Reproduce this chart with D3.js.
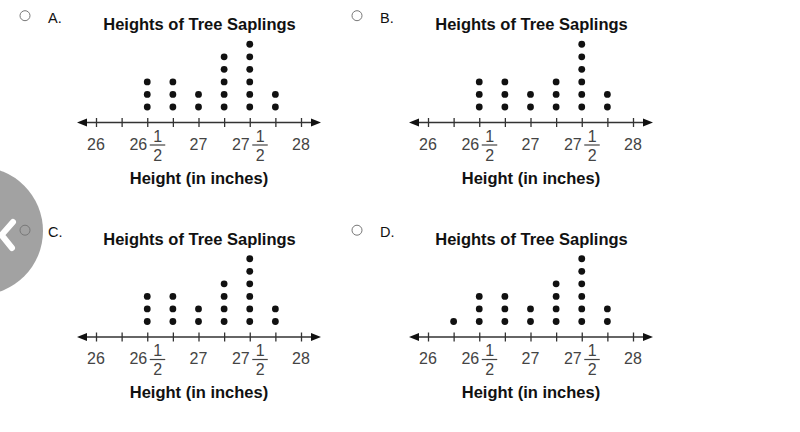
<!DOCTYPE html>
<html>
<head>
<meta charset="utf-8">
<script src="https://cdn.jsdelivr.net/npm/d3@7"></script>
<style>
  html, body { margin: 0; padding: 0; background: #fff; }
  svg { display: block; }
</style>
</head>
<body>
<svg id="chart" width="800" height="432"></svg>
<script>
// ---- data ----
const title = "Heights of Tree Saplings";
const xAxisLabel = "Height (in inches)";
const optionLetters = ["A.", "B.", "C.", "D."];
const tickValues = [26, 26.25, 26.5, 26.75, 27, 27.25, 27.5, 27.75, 28];
const labelValues = [26, 26.5, 27, 27.5, 28];
const labelWhole = ["26", "26", "27", "27", "28"];
const labelNumer = ["", "1", "", "1", ""];
const labelDenom = ["", "2", "", "2", ""];
const heights = [26.25, 26.5, 26.75, 27, 27.25, 27.5, 27.75];
const countsA = [0, 3, 3, 2, 5, 6, 2];
const countsB = [0, 3, 3, 2, 3, 6, 2];
const countsC = [0, 3, 3, 2, 4, 6, 2];
const countsD = [1, 3, 3, 2, 4, 6, 2];
const panelCounts = [countsA, countsB, countsC, countsD];

// ---- layout ----
const svg = d3.select("#chart");
const panelDX = 332, panelDY = 214.5;
const axisY = 122.5;
const font = "'Liberation Sans', Arial, Helvetica, sans-serif";

// decorative grey circle with chevron (behind panels)
svg.append("circle").attr("cx", -21).attr("cy", 231).attr("r", 64).attr("fill", "#a2a2a2");
svg.append("path")
  .attr("d", d3.line()([[13, 222], [1.5, 235], [12, 248]]))
  .attr("fill", "none").attr("stroke", "#fff").attr("stroke-width", 6)
  .attr("stroke-linecap", "round").attr("stroke-linejoin", "round");

panelCounts.forEach((counts, pi) => {
  const ox = (pi % 2) * panelDX;
  const oy = Math.floor(pi / 2) * panelDY;
  const g = svg.append("g").attr("transform", `translate(${ox},${oy})`);

  const x = d3.scaleLinear().domain([26, 28]).range([96, 301]);
  const y = d3.scaleLinear().domain([1, 6]).range([axisY - 15.5, axisY - 15.5 - 5 * 12.55]);

  // radio + letter
  g.append("circle").attr("cx", 25).attr("cy", 15.7).attr("r", 5)
    .attr("fill", pi === 2 ? "none" : "#fff").attr("stroke", "#777").attr("stroke-width", 1);
  g.append("text").attr("x", 48).attr("y", 22.7).text(optionLetters[pi])
    .attr("font-family", font).attr("font-size", 14.5).attr("fill", "#111");

  // title
  g.append("text").attr("x", 199.5).attr("y", 30).attr("text-anchor", "middle")
    .attr("font-family", font).attr("font-weight", "bold").attr("font-size", 16.5)
    .attr("fill", "#111").text(title);

  // axis
  const axis = d3.axisBottom(x).tickValues(tickValues).tickSize(0).tickFormat("");
  const ag = g.append("g").attr("transform", `translate(0,${axisY})`).call(axis);
  ag.select(".domain").remove();
  ag.append("line").attr("x1", x(26) - 14).attr("x2", x(28) + 14)
    .attr("stroke", "#333").attr("stroke-width", 1.4);
  ag.selectAll(".tick").append("line").attr("y1", -4.5).attr("y2", 4.5)
    .attr("stroke", "#333").attr("stroke-width", 1.3);
  // arrowheads
  ag.append("path").attr("d", `M${x(26) - 19},0 L${x(26) - 9},-4 L${x(26) - 9},4 Z`).attr("fill", "#111");
  ag.append("path").attr("d", `M${x(28) + 20},0 L${x(28) + 10},-4 L${x(28) + 10},4 Z`).attr("fill", "#111");

  // tick labels
  labelValues.forEach((v, i) => {
    const lx = x(v);
    const mixed = labelNumer[i] !== "";
    const tg = g.append("g").attr("font-family", font).attr("font-size", 16).attr("fill", "#444");
    if (!mixed) {
      tg.append("text").attr("x", lx).attr("y", axisY + 27).attr("text-anchor", "middle").text(labelWhole[i]);
    } else {
      tg.append("text").attr("x", lx).attr("y", axisY + 27).attr("text-anchor", "end").text(labelWhole[i]);
      tg.append("text").attr("x", lx + 10.5).attr("y", axisY + 19).attr("text-anchor", "middle").text(labelNumer[i]);
      tg.append("line").attr("x1", lx + 2.5).attr("x2", lx + 18)
        .attr("y1", axisY + 22.5).attr("y2", axisY + 22.5).attr("stroke", "#444").attr("stroke-width", 1.2);
      tg.append("text").attr("x", lx + 10.5).attr("y", axisY + 38).attr("text-anchor", "middle").text(labelDenom[i]);
    }
  });

  // axis label
  g.append("text").attr("x", 199).attr("y", 183.5).attr("text-anchor", "middle")
    .attr("font-family", font).attr("font-weight", "bold").attr("font-size", 16.5)
    .attr("fill", "#111").text(xAxisLabel);

  // dots
  const dots = [];
  heights.forEach((h, i) => {
    for (let k = 1; k <= counts[i]; k++) dots.push({ h, k });
  });
  g.selectAll("circle.dot").data(dots).join("circle").attr("class", "dot")
    .attr("cx", d => x(d.h)).attr("cy", d => y(d.k)).attr("r", 3.4).attr("fill", "#111");
});
</script>
</body>
</html>
